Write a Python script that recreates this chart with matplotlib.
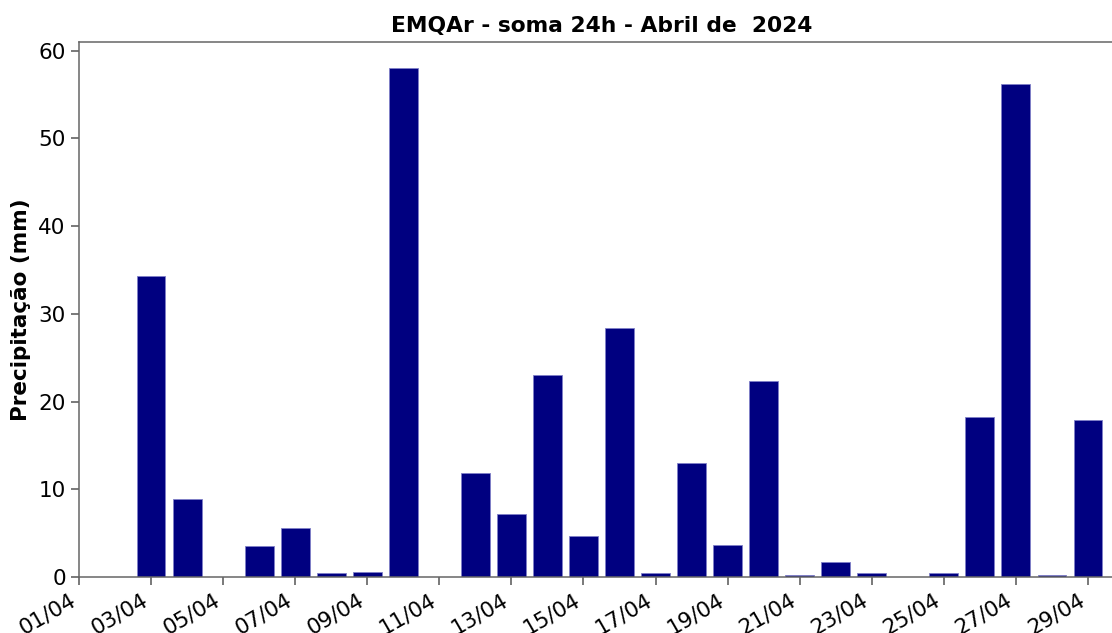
"""
Precipitacao diaria - EMQAr, Abril 2024
"""
import matplotlib
matplotlib.use("Agg")
import matplotlib.pyplot as plt
import matplotlib.dates as mdates
import pandas as pd

# dados (mm por dia)
dias = pd.date_range("2024-04-01", "2024-04-29", freq="D")
chuva = [0.0, 0.0, 34.3, 8.9, 0.0, 3.5, 5.6, 0.4, 0.6, 58.0,
         0.0, 11.9, 7.2, 23.0, 4.7, 28.4, 0.4, 13.0, 3.6, 22.3,
         0.2, 1.7, 0.4, 0.0, 0.4, 18.2, 56.2, 0.2, 17.9]
titulo = "EMQAr - soma 24h - Abril de  2024"
rotulo_y = "Precipitação (mm)"

fig = plt.figure(figsize=(11.12, 6.33), dpi=100)
# eixo estende um pouco alem da borda direita (como no original)
ax = fig.add_axes([79 / 1112, 56 / 633, 1045 / 1112, 535 / 633])

ax.bar(dias, chuva, width=0.8, color="navy", edgecolor="#8080c8", linewidth=0.6)

ax.set_xlim(pd.Timestamp("2024-04-01"), pd.Timestamp("2024-04-30"))
ax.set_ylim(0, 61.0)
ax.xaxis.set_major_locator(mdates.DayLocator(bymonthday=range(1, 32, 2)))
ax.xaxis.set_major_formatter(mdates.DateFormatter("%d/%m"))
plt.setp(ax.get_xticklabels(), rotation=30, ha="right")

ax.tick_params(labelsize=15.5, colors="#555555", labelcolor="black", length=6, width=1.1)
for lado in ["left", "bottom", "top", "right"]:
    ax.spines[lado].set_color("#666666")
    ax.spines[lado].set_linewidth(1.1)

ax.set_ylabel(rotulo_y, fontsize=15.5, fontweight="bold", labelpad=5)
ax.set_title(titulo, fontsize=15.7, fontweight="bold", pad=7)

fig.savefig("out.png", dpi=100)
